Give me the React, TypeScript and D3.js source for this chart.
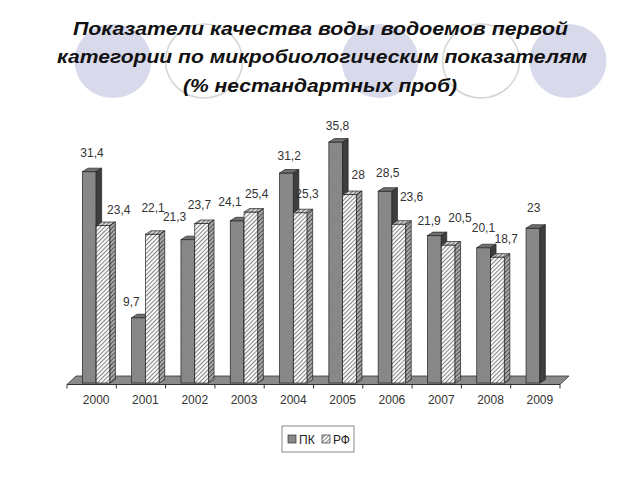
import React from 'react';
import * as d3 from 'd3';

const years = ['2000', '2001', '2002', '2003', '2004', '2005', '2006', '2007', '2008', '2009'];
const seriesNames = ['ПК', 'РФ'];
const pkValues: (number | null)[] = [31.4, 9.7, 21.3, 24.1, 31.2, 35.8, 28.5, 21.9, 20.1, 23];
const rfValues: (number | null)[] = [23.4, 22.1, 23.7, 25.4, 25.3, 28, 23.6, 20.5, 18.7, null];
const titleLines = [
  'Показатели качества воды водоемов первой',
  'категории по микробиологическим показателям',
  '(% нестандартных проб)',
];

// layout for title lines: [x start, baseline, width]
const titleLayout = [[73, 35, 495], [57, 63, 530], [183, 92, 274]];

// layout nudges for value labels (Excel-like placement) [dx, dy]
const pkNudge = [[0, -2], [-10, 1], [-16, -6], [-10, -2], [0, -1], [-1, 0], [0, -2], [-8, 2], [-3, -3], [-2, -4]];
const rfNudge = [[13, 1], [-2, -10], [-5, -2], [3, -2], [4, -2], [6, -3], [10, -11], [9, -11], [6, -2], [0, 0]];

const W = 640, H = 480;
const floorLeft = 67, floorRight = 560, floorBottom = 384.5, floorDx = 9, floorDy = 8.5;
const baseY = 383;
const depthX = 5.5, depthY = 3.5;
const font = '"Liberation Sans", Arial, sans-serif';

export default function App() {
  const x = d3.scaleBand<string>().domain(years).range([floorLeft, floorRight]).paddingInner(0).paddingOuter(0);
  const cw = x.bandwidth();
  const pairW = 27.6;
  const inner = d3.scaleBand<string>().domain(seriesNames).range([0, pairW]).padding(0);
  const shift = 4.5;
  const pairLeft = (yr: string) => (x(yr) as number) + shift + (cw - pairW) / 2;
  const y = d3.scaleLinear().domain([0, 40]).range([baseY, baseY - 40 * 6.73]);
  const bw = inner.bandwidth();

  const bars: any[] = [];
  years.forEach((yr, i) => {
    [pkValues[i], rfValues[i]].forEach((v, s) => {
      if (v == null) return;
      const x0 = pairLeft(yr) + (inner(seriesNames[s]) as number);
      bars.push({ i, s, v, x0, yTop: y(v) });
    });
  });

  const ellipses = [
    { cx: 113, filled: true },
    { cx: 204, filled: false },
    { cx: 380, filled: true },
    { cx: 481, filled: false },
    { cx: 568, filled: true },
  ];

  return (
    <svg width={W} height={H} style={{ position: 'absolute', left: 0, top: 0, background: '#fff' }}>
      <defs>
        <pattern id="hatchFront" patternUnits="userSpaceOnUse" width="3" height="3" patternTransform="rotate(45)">
          <rect width="3" height="3" fill="#ffffff" />
          <line x1="0.6" y1="0" x2="0.6" y2="3" stroke="#7a7a7a" strokeWidth="1" />
        </pattern>
        <pattern id="hatchSide" patternUnits="userSpaceOnUse" width="3" height="3" patternTransform="rotate(45)">
          <rect width="3" height="3" fill="#b0b0b0" />
          <line x1="0.6" y1="0" x2="0.6" y2="3" stroke="#444" strokeWidth="1" />
        </pattern>
        <pattern id="hatchTop" patternUnits="userSpaceOnUse" width="3" height="3" patternTransform="rotate(45)">
          <rect width="3" height="3" fill="#d8d8d8" />
          <line x1="0.6" y1="0" x2="0.6" y2="3" stroke="#666" strokeWidth="1" />
        </pattern>
        <pattern id="pkFront" patternUnits="userSpaceOnUse" width="2" height="2" patternTransform="rotate(45)">
          <rect width="2" height="2" fill="#8e8e8e" />
          <line x1="0.5" y1="0" x2="0.5" y2="2" stroke="#7e7e7e" strokeWidth="0.8" />
        </pattern>
      </defs>

      {ellipses.map((e, k) => (
        <ellipse key={k} cx={e.cx} cy={61} rx={38.5} ry={37}
          fill={e.filled ? '#d9d9ec' : '#ffffff'}
          stroke={e.filled ? 'none' : '#d4d4d4'} strokeWidth={1.5} />
      ))}

      {titleLines.map((t, k) => (
        <text key={k} x={titleLayout[k][0]} y={titleLayout[k][1]} textLength={titleLayout[k][2]}
          lengthAdjust="spacingAndGlyphs"
          fontFamily={font} fontStyle="italic" fontWeight="bold" fontSize={17.5} fill="#111">{t}</text>
      ))}

      {/* floor */}
      <polygon
        points={`${floorLeft},${floorBottom} ${floorRight},${floorBottom} ${floorRight + floorDx},${floorBottom - floorDy} ${floorLeft + floorDx},${floorBottom - floorDy}`}
        fill="#8a8a8a" stroke="#333" strokeWidth={0.8} />
      <line x1={floorLeft} x2={floorRight} y1={floorBottom} y2={floorBottom} stroke="#333" strokeWidth={1} />
      {years.concat(['end']).map((yr, k) => {
        const tx = floorLeft + k * cw;
        return <line key={k} x1={tx} x2={tx} y1={floorBottom} y2={floorBottom + 4} stroke="#333" strokeWidth={1} />;
      })}

      {bars.map((b, k) => {
        const x1 = b.x0 + bw;
        const isPk = b.s === 0;
        return (
          <g key={k}>
            <rect x={b.x0} y={b.yTop} width={bw} height={baseY - b.yTop}
              fill={isPk ? 'url(#pkFront)' : 'url(#hatchFront)'} stroke="#222" strokeWidth={0.7} />
            <polygon
              points={`${b.x0},${b.yTop} ${x1},${b.yTop} ${x1 + depthX},${b.yTop - depthY} ${b.x0 + depthX},${b.yTop - depthY}`}
              fill={isPk ? '#6f6f6f' : 'url(#hatchTop)'} stroke="#222" strokeWidth={0.7} />
            <polygon
              points={`${x1},${b.yTop} ${x1 + depthX},${b.yTop - depthY} ${x1 + depthX},${baseY - depthY} ${x1},${baseY}`}
              fill={isPk ? '#3e3e3e' : 'url(#hatchSide)'} stroke="#222" strokeWidth={0.7} />
          </g>
        );
      })}

      {bars.map((b, k) => {
        const nudge = (b.s === 0 ? pkNudge : rfNudge)[b.i];
        const lx = b.x0 + bw / 2 + depthX / 2 + nudge[0];
        const ly = b.yTop - depthY - 9 + nudge[1];
        return (
          <text key={k} x={lx} y={ly} textAnchor="middle" fontFamily={font} fontSize={12} fill="#333">
            {String(b.v).replace('.', ',')}
          </text>
        );
      })}

      {years.map((yr) => (
        <text key={yr} x={pairLeft(yr) + pairW / 2} y={404} textAnchor="middle" fontFamily={font} fontSize={12} fill="#333">{yr}</text>
      ))}

      {/* legend */}
      <rect x={282} y={426} width={72} height={26} fill="#fff" stroke="#8a8a8a" strokeWidth={1} />
      <rect x={288} y={435} width={8} height={8} fill="url(#pkFront)" stroke="#333" strokeWidth={0.7} />
      <text x={299} y={444} fontFamily={font} fontSize={12} fill="#222">{seriesNames[0]}</text>
      <rect x={322} y={435} width={8} height={8} fill="url(#hatchFront)" stroke="#333" strokeWidth={0.7} />
      <text x={333} y={444} fontFamily={font} fontSize={12} fill="#222">{seriesNames[1]}</text>
    </svg>
  );
}
